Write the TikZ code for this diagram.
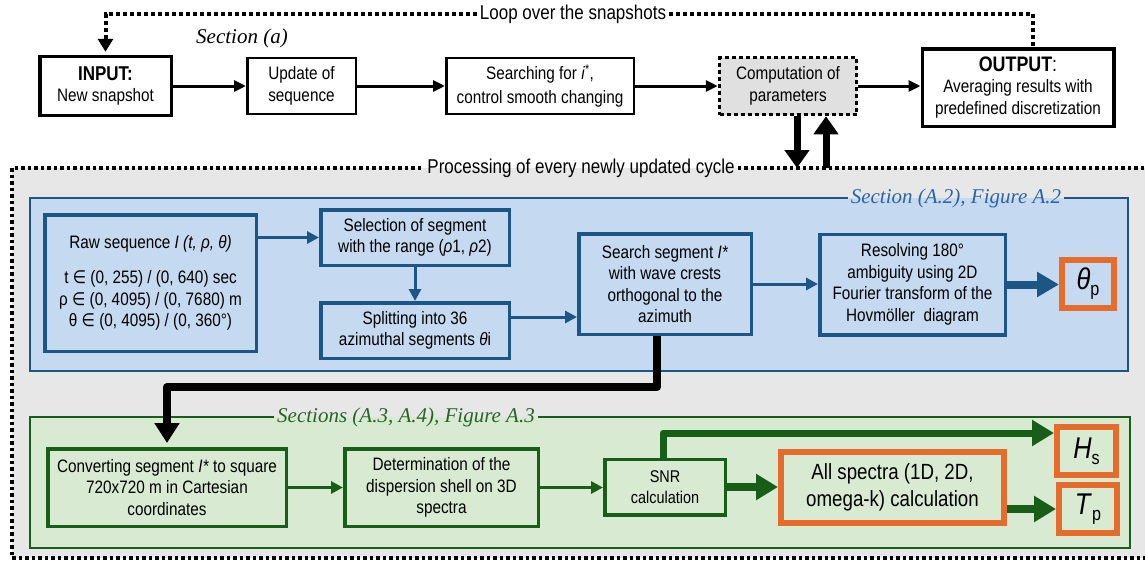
\documentclass[tikz,border=0pt]{standalone}
\usepackage{fontspec}
\setmainfont{Liberation Sans}[FakeStretch=0.85]
\newfontfamily\serifit{Liberation Serif}
\newfontfamily\dejavu{DejaVu Sans}[FakeStretch=0.85]
\usetikzlibrary{arrows.meta,calc}

\definecolor{bgray}{RGB}{231,231,231}
\definecolor{bluefill}{RGB}{197,217,241}
\definecolor{blueline}{RGB}{29,85,133}
\definecolor{greenfill}{RGB}{217,234,211}
\definecolor{greenline}{RGB}{24,94,24}
\definecolor{orng}{RGB}{229,108,42}
\definecolor{bluelabel}{RGB}{46,100,160}
\definecolor{greenlabel}{RGB}{40,100,40}
\definecolor{compfill}{RGB}{224,224,224}

\newcommand{\elem}{{\dejavu ∈}}

\tikzset{
  txt/.style={font=\fontsize{18}{21.5}\selectfont, align=center, inner sep=0pt},
  topbox/.style={txt, draw=black, line width=2.5pt, fill=white},
  bluebox/.style={txt, draw=blueline, line width=3.5pt, fill=bluefill},
  greenbox/.style={txt, draw=greenline, line width=3.5pt, fill=greenfill},
  orangebox/.style={txt, draw=orng, line width=6pt},
  lbl/.style={font=\fontsize{20}{23}\selectfont, inner sep=3pt},
  seclbl/.style={font=\serifit\itshape\fontsize{21}{24}\selectfont, inner sep=3pt},
  dotline/.style={line width=4pt, dash pattern=on 4pt off 3pt},
  procdot/.style={line width=3.5pt, dash pattern=on 3.5pt off 3pt},
  karr/.style={line width=3pt, -{Triangle[length=12pt,width=11pt]}},
  barr/.style={blueline, line width=3pt, -{Triangle[length=12pt,width=12pt]}},
  bthick/.style={blueline, line width=8pt, -{Triangle[length=22pt,width=24pt]}},
  garr/.style={greenline, line width=3pt, -{Triangle[length=12pt,width=12pt]}},
  gthick/.style={greenline, line width=8pt, -{Triangle[length=22pt,width=25pt]}},
  cthick/.style={black, line width=7pt, -{Triangle[length=18pt,width=24pt]}},
  blk/.style={black, line width=8pt, line join=round, -{Triangle[length=20pt,width=24pt]}},
}

\begin{document}
\begin{tikzpicture}[x=1pt,y=-1pt]
\useasboundingbox (0,0) rectangle (1145,562);
\fill[white] (0,0) rectangle (1145,562);

% ---------- processing region background ----------
\fill[bgray] (12,168) rectangle (1147,558);
\node[lbl] (proc) at (581,168) {Processing of every newly updated cycle};
\draw[procdot] (proc.east) -- (1147,168) -- (1147,558) -- (12,558) -- (12,168) -- (proc.west);

% ---------- top row ----------
\node[font=\serifit\itshape\fontsize{21}{24}\selectfont] (seca) at (242,38) {Section (a)};
\node[topbox, line width=3.5pt, minimum width=131.5pt, minimum height=59pt] (input) at (105.5,86)
  {{\fontsize{20}{23}\selectfont\bfseries INPUT:}\\New snapshot};
\node[topbox, minimum width=108.5pt, minimum height=56pt] (upd) at (301.5,86) {Update of\\sequence};
\node[topbox, font=\fontsize{18}{23.5}\selectfont, minimum width=187.5pt, minimum height=56pt] (srch) at (540,86)
  {Searching for \textit{i}\textsuperscript{*},\\control smooth changing};
\node[txt, fill=compfill, draw=black, line width=3.5pt, dash pattern=on 4pt off 3pt,
  minimum width=137pt, minimum height=57pt] (comp) at (788,86) {Computation of\\parameters};
\node[topbox, line width=3.5pt, minimum width=191.5pt, minimum height=77.5pt] (out) at (1018,87.5)
  {{\fontsize{21}{25}\selectfont\textbf{OUTPUT}:}\\Averaging results with\\predefined discretization};

\draw[karr] (input.east) -- (input.east -| upd.west);
\draw[karr] (upd.east) -- (upd.east -| srch.west);
\draw[karr] (srch.east) -- (srch.east -| comp.west);
\draw[karr] (comp.east) -- (comp.east -| out.west);

% loop
\node[lbl] (loop) at (573,14) {Loop over the snapshots};
\coordinate (loopend) at ([yshift=18pt]input.north);
\draw[dotline] (loop.west) -| (loopend);
\draw[line width=4pt, -{Triangle[length=13pt,width=15pt]}] ([yshift=19pt]input.north) -- ([yshift=3pt]input.north);
\draw[dotline] (loop.east) -| ([xshift=15pt]out.north);

% computation arrows
\coordinate (cd) at ([xshift=9pt]comp.south);
\coordinate (cu) at ([xshift=38pt]comp.south);
\draw[cthick] (cd) -- (cd |- proc);
\draw[cthick] (cu |- proc) -- (cu);

% ---------- blue section ----------
\fill[bluefill] (30,198) rectangle (1128,371);
\node[seclbl, text=bluelabel] (bsec) at (956,198) {Section (A.2), Figure A.2};
\draw[blueline, line width=2.5pt] (bsec.east) -| (1128,371) -| (30,198) -- (bsec.west);

\node[bluebox, minimum width=211.5pt, minimum height=136.5pt] (raw) at (150.5,283)
  {Raw sequence \textit{I (t, ρ, θ)}\\[14pt]
   t \elem{} (0, 255) / (0, 640) sec\\
   ρ \elem{} (0, 4095) / (0, 7680) m\\
   θ \elem{} (0, 4095) / (0, 360°)};
\node[bluebox, minimum width=188.5pt, minimum height=55.5pt] (sel) at (415,237.5)
  {Selection of segment\\with the range (\textit{ρ}1, \textit{ρ}2)};
\node[bluebox, minimum width=188.5pt, minimum height=55.5pt] (split) at (415,330.5)
  {Splitting into 36\\azimuthal segments \textit{θ}i};
\node[bluebox, minimum width=172.5pt, minimum height=100.5pt] (search) at (665,284)
  {Search segment \textit{I*}\\with wave crests\\orthogonal to the\\azimuth};
\node[bluebox, minimum width=185.5pt, minimum height=100.5pt] (resolv) at (912.5,284.5)
  {Resolving 180°\\ambiguity using 2D\\Fourier transform of the\\Hovmöller\ \ diagram};
\node[orangebox, fill=bluefill, minimum width=52pt, minimum height=48pt] (thp) at (1088,284)
  {\fontsize{30}{32}\selectfont\textit{θ}\raisebox{-6pt}{\fontsize{19}{20}\selectfont p}};

\draw[barr] (raw.east |- sel) -- (sel.west);
\draw[barr] (sel) -- (split);
\draw[barr] ([yshift=13.5pt]split.east) -- ([yshift=13.5pt]split.east -| search.west);
\draw[barr] (search.east) -- (search.east -| resolv.west);
\draw[bthick] (resolv.east) -- (resolv.east -| thp.west);

% ---------- green section ----------
\fill[greenfill] (30,417) rectangle (1130,548);
\node[seclbl, text=greenlabel] (gsec) at (406,417) {Sections (A.3, A.4), Figure A.3};
\draw[greenline, line width=2.5pt] (gsec.east) -| (1130,548) -| (30,417) -- (gsec.west);

\node[greenbox, minimum width=238.5pt, minimum height=77.5pt] (conv) at (167,487.5)
  {Converting segment \textit{I*} to square\\720x720 m in Cartesian\\coordinates};
\node[greenbox, minimum width=193.5pt, minimum height=77.5pt] (det) at (441.5,487.5)
  {Determination of the\\dispersion shell on 3D\\spectra};
\node[greenbox, font=\fontsize{17}{21}\selectfont, minimum width=120.5pt, minimum height=55.5pt] (snr) at (665,487)
  {SNR\\calculation};
\node[orangebox, fill=greenfill, font=\fontsize{22}{27}\selectfont, minimum width=223pt, minimum height=71pt] (all) at (892.5,487)
  {All spectra (1D, 2D,\\omega-k) calculation};
\node[orangebox, fill=greenfill, minimum width=59pt, minimum height=48pt] (hs) at (1086.5,451)
  {\fontsize{30}{32}\selectfont\textit{H}\raisebox{-6pt}{\fontsize{19}{20}\selectfont s}};
\node[orangebox, fill=greenfill, minimum width=58pt, minimum height=48pt] (tp) at (1088,509)
  {\fontsize{30}{32}\selectfont\textit{T}\raisebox{-6pt}{\fontsize{19}{20}\selectfont p}};

\draw[garr] (conv.east) -- (conv.east -| det.west);
\draw[garr] (det.east) -- (det.east -| snr.west);
\draw[gthick] (snr.east) -- (snr.east -| all.west);
\draw[gthick] (all.east |- tp) -- (tp.west);
\coordinate (snrtop) at ([xshift=-2pt]snr.north);
\draw[gthick, line width=7pt, line join=round] (snrtop) |- ([yshift=18pt]hs.west);

% ---------- black connector ----------
\coordinate (sbot) at ([xshift=-8pt]search.south);
\draw[blk] (sbot) -- ++(0,51) -| ([yshift=4pt]conv.north);

\end{tikzpicture}
\end{document}
